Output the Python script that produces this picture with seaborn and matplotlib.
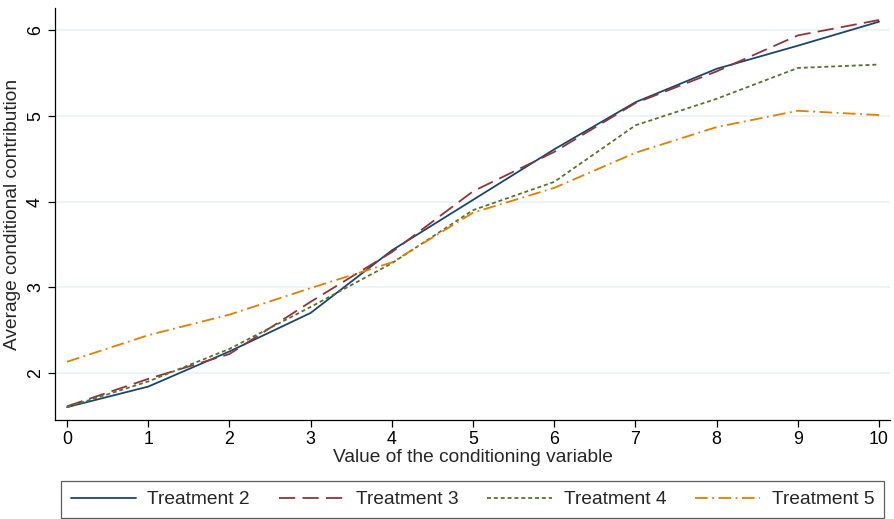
import numpy as np
import pandas as pd
import matplotlib
matplotlib.use("Agg")
import matplotlib.pyplot as plt
import seaborn as sns

x_vals = [0, 1, 2, 3, 4, 5, 6, 7, 8, 9, 10]
t2 = [1.60, 1.84, 2.25, 2.70, 3.43, 4.02, 4.61, 5.16, 5.55, 5.82, 6.10]
t3 = [1.61, 1.93, 2.22, 2.83, 3.41, 4.12, 4.58, 5.15, 5.52, 5.94, 6.12]
t4 = [1.60, 1.90, 2.28, 2.77, 3.28, 3.90, 4.23, 4.89, 5.20, 5.56, 5.60]
t5 = [2.13, 2.44, 2.68, 2.99, 3.29, 3.87, 4.16, 4.57, 4.87, 5.06, 5.01]
series_names = ["Treatment 2", "Treatment 3", "Treatment 4", "Treatment 5"]
y_ticks = [2, 3, 4, 5, 6]
x_ticks = list(range(11))

df = pd.DataFrame({
    "x": x_vals * 4,
    "y": t2 + t3 + t4 + t5,
    "series": sum([[n] * len(x_vals) for n in series_names], []),
})

sns.set_theme(style="white")
plt.rcParams["font.family"] = ["Liberation Sans", "DejaVu Sans"]

colors = {"Treatment 2": "#1a476f", "Treatment 3": "#90353b",
          "Treatment 4": "#55752f", "Treatment 5": "#e37e00"}
dashes = {"Treatment 2": "", "Treatment 3": (9, 4),
          "Treatment 4": (2.2, 1.6), "Treatment 5": (7, 2.5, 1, 2.5)}

fig = plt.figure(figsize=(8.94, 5.19), dpi=100)
ax = fig.add_axes([55/894, 1 - 420/519, (890-55)/894, (420-8)/519])

sns.lineplot(data=df, x="x", y="y", hue="series", style="series",
             palette=colors, dashes=dashes, linewidth=1.3, ax=ax, legend=True)

ax.set_xlim(-0.148, 10.135)
ax.set_ylim(1.45, 6.26)
ax.set_xticks(x_ticks)
ax.set_yticks(y_ticks)
ax.set_yticklabels([str(v) for v in y_ticks], rotation=90, va="center")
ax.grid(axis="y", color="#eaf2f3", linewidth=1.2)
ax.set_axisbelow(True)
for s in ["top", "right"]:
    ax.spines[s].set_visible(False)
for s in ["left", "bottom"]:
    ax.spines[s].set_color("#000000")
    ax.spines[s].set_linewidth(0.9)
ax.tick_params(axis="both", which="major", length=5, width=0.9, color="#000000",
               direction="out", labelsize=12.8, colors="#000000", pad=3)
ax.tick_params(left=True, bottom=True)
ax.set_xlabel("Value of the conditioning variable", fontsize=13.8, labelpad=1)
ax.set_ylabel("Average conditional contribution", fontsize=13.8, labelpad=4)

handles, labels = ax.get_legend_handles_labels()
ax.get_legend().remove()
leg = fig.legend(handles, labels, loc="lower left", ncol=4, mode="expand",
                 bbox_to_anchor=(61/894, 1/519, 823/894, 36/519), fontsize=13.8,
                 frameon=True, fancybox=False, edgecolor="#333333",
                 handlelength=3.4, columnspacing=1.2, borderpad=0.5,
                 handletextpad=0.6, borderaxespad=0)
leg.get_frame().set_linewidth(0.9)

fig.savefig("out.png", dpi=100, facecolor="white")
